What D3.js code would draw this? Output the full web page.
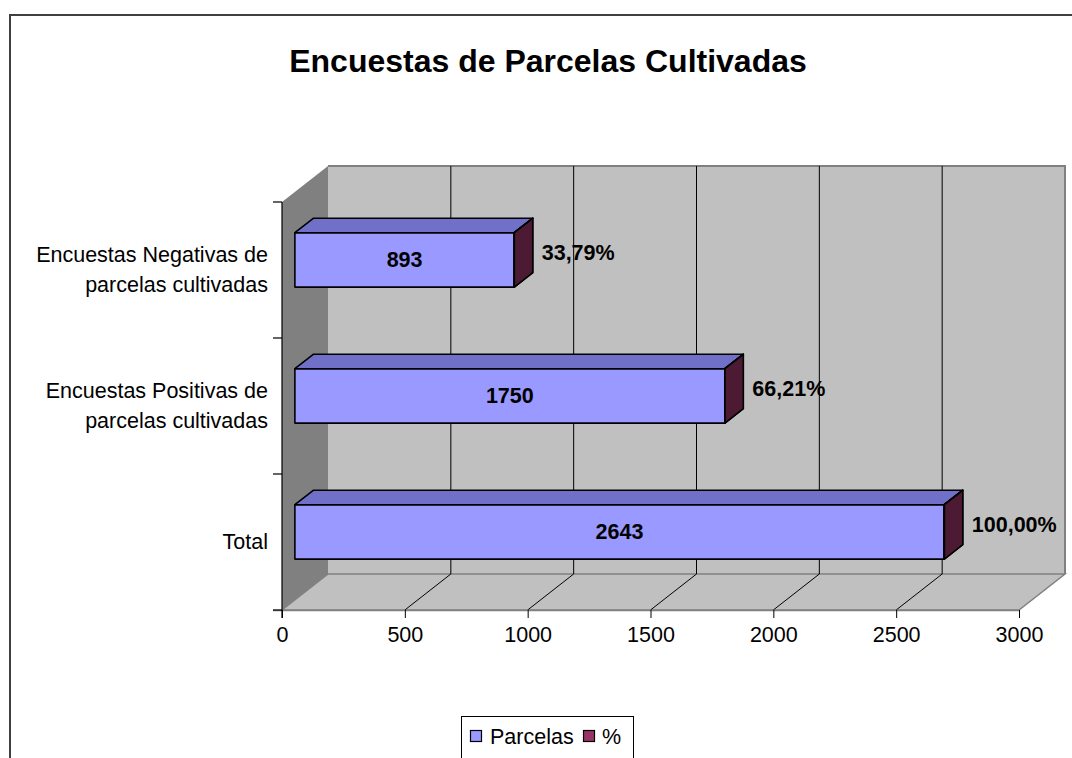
<!DOCTYPE html>
<html>
<head>
<meta charset="utf-8">
<script src="https://cdn.jsdelivr.net/npm/d3@7"></script>
<style>
  html, body { margin: 0; padding: 0; background: #fff; }
  svg { display: block; font-family: "Liberation Sans", Arial, sans-serif; }
</style>
</head>
<body>
<svg id="chart" width="1072" height="758"></svg>
<script>
// ---- data ----
const categories = ["Encuestas Negativas de\nparcelas cultivadas", "Encuestas Positivas de\nparcelas cultivadas", "Total"];
const parcelas = [893, 1750, 2643];
const pct = [0.3379, 0.6621, 1.0];
const pctLabels = ["33,79%", "66,21%", "100,00%"];
const xTicks = [0, 500, 1000, 1500, 2000, 2500, 3000];
const seriesNames = ["Parcelas", "%"];
const title = "Encuestas de Parcelas Cultivadas";

// ---- layout ----
const svg = d3.select("#chart");
const plot = { left: 282, right: 1019, top: 202, bottom: 610 };
const depth = { dx: 46, dy: -36 };
const barFront = 0.28, barBack = 0.68;
const colors = { front: "#9999FF", top: "#7070C8", side: "#3E3E80",
                 pFront: "#993366", pTop: "#7A2952", pSide: "#4D1A33",
                 wall: "#C0C0C0", sideWall: "#808080", edge: "#808080" };
const fs = 21.5;

const x = d3.scaleLinear().domain([0, 3000]).range([plot.left, plot.right]);
const y = d3.scaleBand().domain(categories).range([plot.top, plot.bottom])
  .paddingInner(0.6).paddingOuter(0.3);

// outer border
svg.append("rect").attr("x", 10).attr("y", 15).attr("width", 1100).attr("height", 800)
  .attr("fill", "#fff").attr("stroke", "#404040").attr("stroke-width", 2);

// title
svg.append("text").attr("x", 548).attr("y", 72).attr("text-anchor", "middle")
  .attr("font-size", 32).attr("font-weight", "bold").attr("fill", "#000").text(title);

const P = (px, py, f) => [px + depth.dx * f, py + depth.dy * f];
const poly = pts => pts.map(p => p.join(",")).join(" ");

// back wall
const bw = [P(x(0), plot.top, 1), P(x(3000), plot.top, 1), P(x(3000), plot.bottom, 1), P(x(0), plot.bottom, 1)];
svg.append("polygon").attr("points", poly(bw)).attr("fill", colors.wall);
// side wall
svg.append("polygon").attr("points", poly([[x(0), plot.top], P(x(0), plot.top, 1), P(x(0), plot.bottom, 1), [x(0), plot.bottom]]))
  .attr("fill", colors.sideWall);
// floor
svg.append("polygon").attr("points", poly([[x(0), plot.bottom], [x(3000), plot.bottom], P(x(3000), plot.bottom, 1), P(x(0), plot.bottom, 1)]))
  .attr("fill", colors.wall).attr("stroke", colors.edge).attr("stroke-width", 1.5);
// wall edges (top & right)
svg.append("polyline").attr("points", poly([P(x(0), plot.top, 1), P(x(3000), plot.top, 1), P(x(3000), plot.bottom, 1)]))
  .attr("fill", "none").attr("stroke", colors.edge).attr("stroke-width", 2);

// gridlines on back wall and floor
xTicks.filter(v => v > 0 && v < 3000).forEach(v => {
  const a = P(x(v), plot.top, 1), b = P(x(v), plot.bottom, 1);
  svg.append("line").attr("x1", a[0]).attr("y1", a[1]).attr("x2", b[0]).attr("y2", b[1])
    .attr("stroke", "#000").attr("stroke-width", 1);
  svg.append("line").attr("x1", x(v)).attr("y1", plot.bottom).attr("x2", b[0]).attr("y2", b[1])
    .attr("stroke", "#000").attr("stroke-width", 1);
});

// x axis
const xAxis = d3.axisBottom(x).tickValues(xTicks).tickSize(8).tickPadding(9).tickFormat(d3.format("d"));
const gx = svg.append("g").attr("transform", `translate(0,${plot.bottom})`).call(xAxis);
gx.select(".domain").attr("stroke", colors.edge).attr("stroke-width", 1.5).attr("d", `M${plot.left - 9},0.5H${plot.right}`);
gx.selectAll(".tick line").attr("stroke", "#000");
gx.selectAll(".tick text").attr("font-size", fs).attr("fill", "#000").attr("font-family", "Liberation Sans, Arial");

// y axis line and ticks
svg.append("line").attr("x1", x(0)).attr("y1", plot.top).attr("x2", x(0)).attr("y2", plot.bottom + 8)
  .attr("stroke", "#000").attr("stroke-width", 1.2);
d3.range(categories.length + 1).forEach(i => {
  const yy = plot.top + i * (plot.bottom - plot.top) / categories.length;
  svg.append("line").attr("x1", x(0) - 9).attr("y1", yy).attr("x2", x(0)).attr("y2", yy)
    .attr("stroke", "#000").attr("stroke-width", 1.2);
});

// category labels
categories.forEach(c => {
  const lines = c.split("\n");
  const cy = y(c) + y.bandwidth() / 2;
  const t = svg.append("text").attr("text-anchor", "end").attr("font-size", fs).attr("fill", "#000");
  const lh = 30;
  const startY = cy + 7 - (lines.length - 1) * lh / 2;
  lines.forEach((l, i) => t.append("tspan").attr("x", 268).attr("y", startY + i * lh).text(l));
});

// bars
function box(x0, x1, y0, y1, front, top, side) {
  const f0 = barFront, f1 = barBack;
  const A = P(x0, y0, f0), B = P(x1, y0, f0), C = P(x1, y1, f0), D = P(x0, y1, f0);
  const A2 = P(x0, y0, f1), B2 = P(x1, y0, f1), C2 = P(x1, y1, f1);
  svg.append("polygon").attr("points", poly([A, B, C, D])).attr("fill", front)
    .attr("stroke", "#000").attr("stroke-width", 1.6).attr("stroke-linejoin", "round");
  svg.append("polygon").attr("points", poly([A, B, B2, A2])).attr("fill", top)
    .attr("stroke", "#000").attr("stroke-width", 1.6).attr("stroke-linejoin", "round");
  svg.append("polygon").attr("points", poly([B, B2, C2, C])).attr("fill", side)
    .attr("stroke", "#000").attr("stroke-width", 1.6).attr("stroke-linejoin", "round");
}
categories.forEach((c, i) => {
  const y0 = y(c), y1 = y(c) + y.bandwidth();
  box(x(0), x(parcelas[i]), y0, y1, colors.front, colors.top, colors.side);
  box(x(parcelas[i]), x(parcelas[i] + pct[i]), y0, y1, colors.pFront, colors.pTop, colors.pSide);
  // value label
  const fc = P((x(0) + x(parcelas[i])) / 2, (y0 + y1) / 2, barFront);
  svg.append("text").attr("x", fc[0]).attr("y", fc[1] + 7.5).attr("text-anchor", "middle")
    .attr("font-size", fs).attr("font-weight", "bold").attr("fill", "#000").text(parcelas[i]);
  // pct label
  const pc = P(x(parcelas[i] + pct[i]), (y0 + y1) / 2, barBack);
  svg.append("text").attr("x", pc[0] + 9).attr("y", pc[1] + 14.5).attr("text-anchor", "start")
    .attr("font-size", fs).attr("font-weight", "bold").attr("fill", "#000").text(pctLabels[i]);
});

// legend
const lg = svg.append("g");
lg.append("rect").attr("x", 461.5).attr("y", 716.5).attr("width", 172).attr("height", 70)
  .attr("fill", "#fff").attr("stroke", "#000").attr("stroke-width", 1);
const legendItems = [
  { name: seriesNames[0], color: colors.front, sx: 470, tx: 490 },
  { name: seriesNames[1], color: colors.pFront, sx: 583, tx: 602 }
];
legendItems.forEach(it => {
  lg.append("rect").attr("x", it.sx + 0.5).attr("y", 730.5).attr("width", 11).attr("height", 11)
    .attr("fill", it.color).attr("stroke", "#000").attr("stroke-width", 1.2);
  lg.append("text").attr("x", it.tx).attr("y", 744).attr("font-size", fs).attr("fill", "#000").text(it.name);
});
</script>
</body>
</html>
